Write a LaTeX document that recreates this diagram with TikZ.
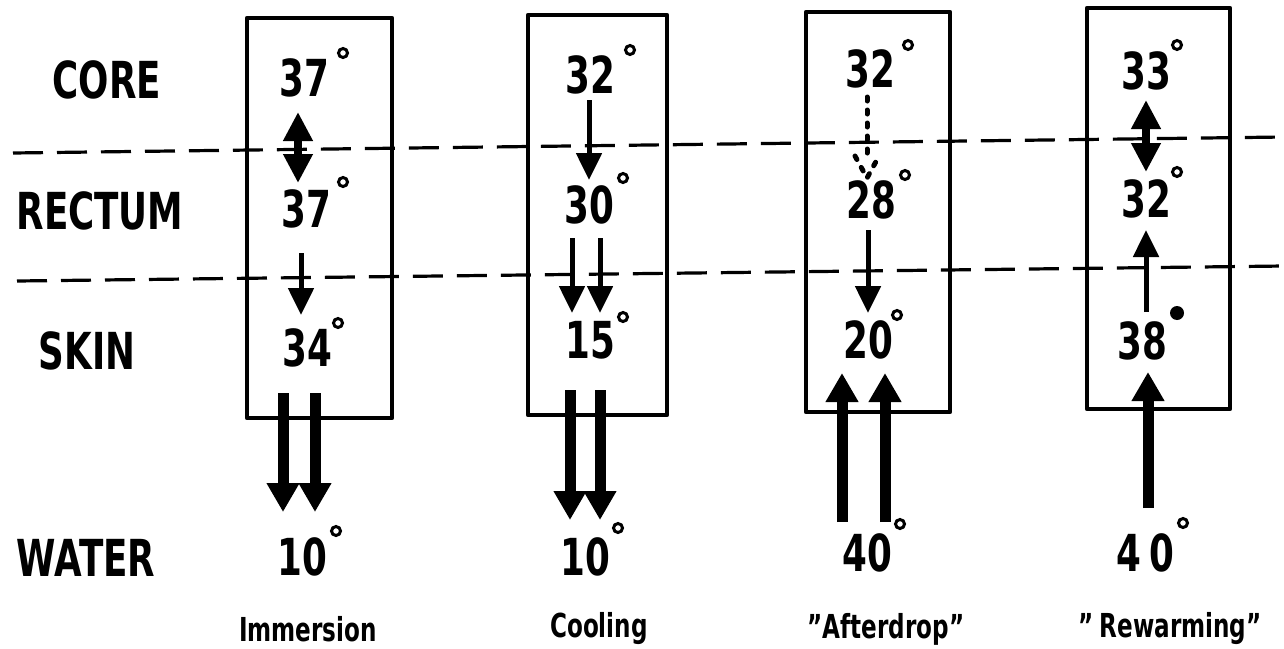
\documentclass[tikz,border=0pt]{standalone}
\usepackage{fontspec}
\setmainfont{DejaVu Sans}[FakeStretch=0.7]
\usetikzlibrary{arrows.meta}
\begin{document}
\begin{tikzpicture}[x=1pt,y=-1pt,
  lab/.style={font=\fontsize{51}{55}\selectfont\bfseries, inner sep=0pt},
  num/.style={font=\fontsize{51}{55}\selectfont\bfseries, inner sep=0pt},
  capt/.style={font=\fontsize{33}{37}\selectfont\bfseries, inner sep=0pt},
  boxst/.style={line width=4.5pt, line join=round},
  sepline/.style={line width=3.2pt, dash pattern=on 30pt off 14pt},
  thinarr/.style={line width=5pt, -{Triangle[length=27pt,width=25pt]}},
  dotarr/.style={line width=5pt, line cap=round, dash pattern=on 4pt off 9pt},
  thickarr/.style={line width=11pt, -{Triangle[length=29pt,width=31pt]}},
  dblarr/.style={line width=7.5pt, {Triangle[length=29pt,width=28pt]}-{Triangle[length=29pt,width=28pt]}},
  degc/.style={line width=3pt},
]
\useasboundingbox (0,0) rectangle (1284,648);

% separators
\coordinate (s1a) at (13,153); \coordinate (s1b) at (1284,137);
\coordinate (s2a) at (17,281); \coordinate (s2b) at (1284,266);
\draw[sepline] (s1a) -- (s1b);
\draw[sepline] (s2a) -- (s2b);

% row labels
\node[lab] (core) at (107,80) {CORE};
\node[lab] (rectum) at (100,211) {RECTUM};
\node[lab] (skin) at (87,351) {SKIN};
\node[lab] (water) at (86,558) {WATER};

% boxes
\draw[boxst] (247,18) rectangle (392,418);
\draw[boxst] (528,15) rectangle (667,415);
\draw[boxst] (806,12) rectangle (950,412);
\draw[boxst] (1087,8) rectangle (1230,409);

% column 1: Immersion
\node[num] (c1) at (304,78) {37};
\node[num] (r1) at (306,209) {37};
\node[num] (k1) at (307,348) {34};
\node[num] (w1) at (302,557) {10};
\draw[degc] (343,53) circle (4.5pt);
\draw[degc] (343,182) circle (4.5pt);
\draw[degc] (338,323) circle (4.5pt);
\draw[degc] (336,531) circle (4.5pt);
\coordinate (a1t) at (298,112); \coordinate (a1b) at (298,183);
\draw[dblarr] (a1t) -- (a1b);
\coordinate (b1t) at (301,253); \coordinate (b1b) at (301,315);
\draw[thinarr] (b1t) -- (b1b);
\coordinate (t1a) at (283,393); \coordinate (t1b) at (283,512);
\coordinate (t1c) at (315,393); \coordinate (t1d) at (315,512);
\draw[thickarr] (t1a) -- (t1b);
\draw[thickarr] (t1c) -- (t1d);
\node[capt] (cap1) at (308,629) {Immersion};

% column 2: Cooling
\node[num] (c2) at (590,75) {32};
\node[num] (r2) at (589,205) {30};
\node[num] (k2) at (590,340) {15};
\node[num] (w2) at (585,557) {10};
\draw[degc] (630,50) circle (4.5pt);
\draw[degc] (623,178) circle (4.5pt);
\draw[degc] (623,317) circle (4.5pt);
\draw[degc] (618,528) circle (4.5pt);
\coordinate (a2t) at (589,100); \coordinate (a2b) at (589,180);
\draw[thinarr] (a2t) -- (a2b);
\coordinate (b2t) at (572,238); \coordinate (b2b) at (572,313);
\coordinate (b2c) at (600,238); \coordinate (b2d) at (600,313);
\draw[thinarr] (b2t) -- (b2b);
\draw[thinarr] (b2c) -- (b2d);
\coordinate (t2a) at (570,390); \coordinate (t2b) at (570,520);
\coordinate (t2c) at (600,390); \coordinate (t2d) at (600,520);
\draw[thickarr] (t2a) -- (t2b);
\draw[thickarr] (t2c) -- (t2d);
\node[capt] (cap2) at (599,629) {Cooling};

% column 3: Afterdrop
\node[num] (c3) at (870,69) {32};
\node[num] (r3) at (871,200) {28};
\node[num] (k3) at (868,340) {20};
\node[num] (w3) at (867,553) {40};
\draw[degc] (908,45) circle (4.5pt);
\draw[degc] (905,175) circle (4.5pt);
\draw[degc] (897,315) circle (4.5pt);
\draw[degc] (900,524) circle (4.5pt);
\coordinate (a3t) at (867,97); \coordinate (a3b) at (867,160);
\coordinate (a3l) at (855,156); \coordinate (a3r) at (879,156); \coordinate (a3p) at (867,178);
\draw[dotarr] (a3t) -- (a3b);
\draw[dotarr] (a3l) -- (a3p) -- (a3r);
\coordinate (b3t) at (868,230); \coordinate (b3b) at (868,313);
\draw[thinarr] (b3t) -- (b3b);
\coordinate (t3a) at (842,522); \coordinate (t3b) at (842,373);
\coordinate (t3c) at (885,522); \coordinate (t3d) at (885,373);
\draw[thickarr] (t3a) -- (t3b);
\draw[thickarr] (t3c) -- (t3d);
\node[capt] (cap3) at (886,629) {"Afterdrop"};

% column 4: Rewarming
\node[num] (c4) at (1146,71) {33};
\node[num] (r4) at (1146,199) {32};
\node[num] (k4) at (1142,341) {38};
\node[num] (w4) at (1145,553) {4\hspace{8pt}0};
\draw[degc] (1177,45) circle (4.5pt);
\draw[degc] (1177,172) circle (4.5pt);
\fill (1177,313) circle (7pt);
\draw[degc] (1183,523) circle (4.5pt);
\coordinate (a4t) at (1146,100); \coordinate (a4b) at (1146,172);
\draw[dblarr] (a4t) -- (a4b);
\coordinate (b4t) at (1146,312); \coordinate (b4b) at (1146,230);
\draw[thinarr] (b4t) -- (b4b);
\coordinate (t4a) at (1148,508); \coordinate (t4b) at (1148,372);
\draw[thickarr] (t4a) -- (t4b);
\node[capt] (cap4) at (1170,629) {"\hspace{6pt}Rewarming"};
\end{tikzpicture}
\end{document}
